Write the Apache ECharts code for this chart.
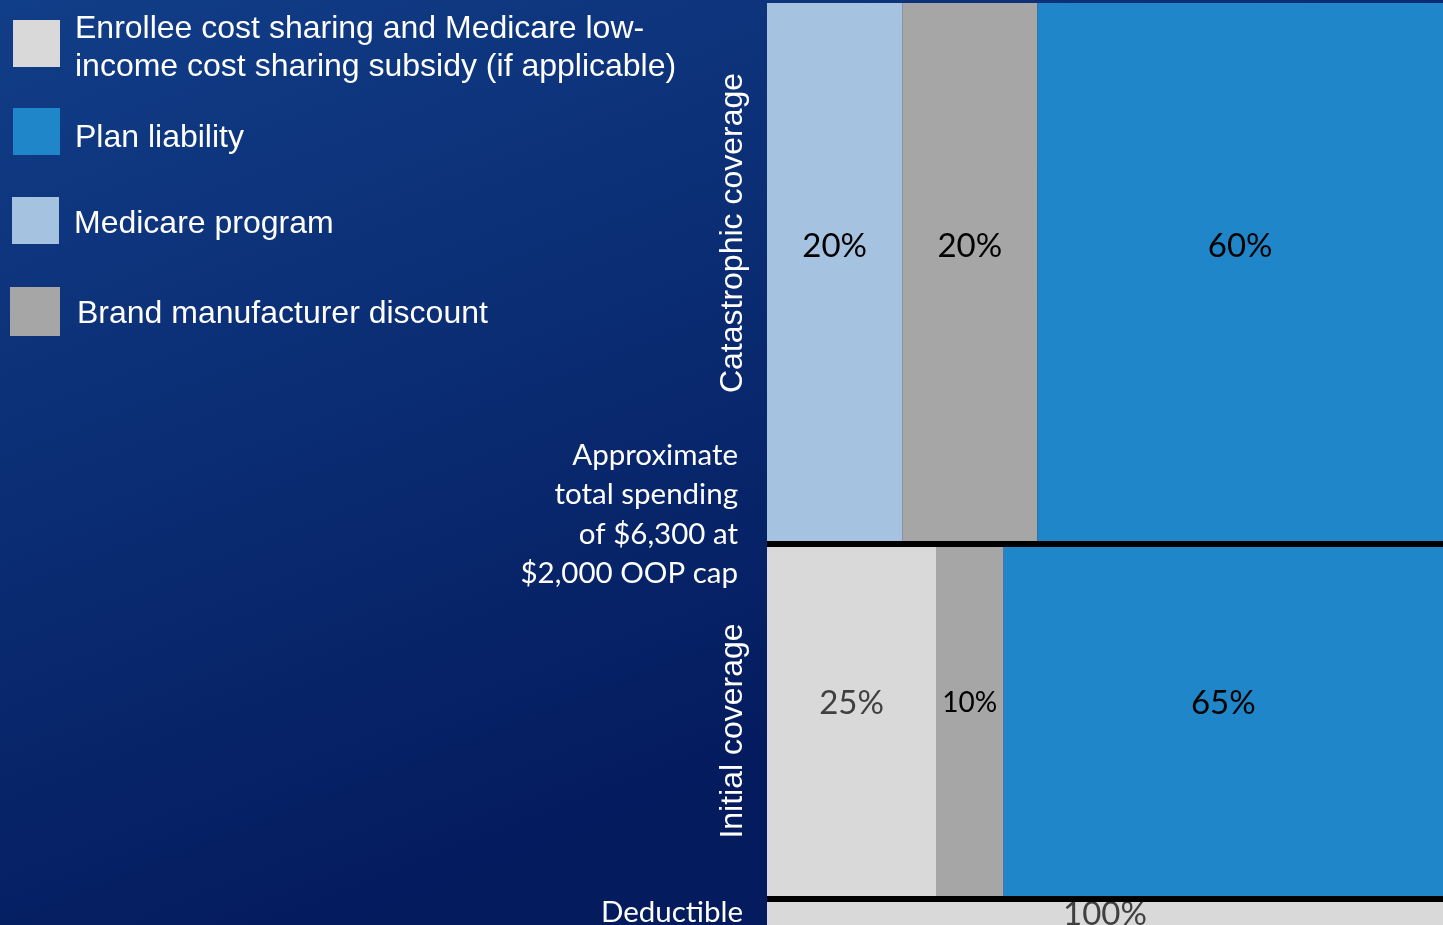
<!DOCTYPE html>
<html>
<head>
<meta charset="utf-8">
<script src="https://cdn.jsdelivr.net/npm/echarts@6/dist/echarts.min.js"></script>
<style>
  html, body { margin: 0; padding: 0; width: 1443px; height: 925px; overflow: hidden; background: #0a2a6e; }
  #chart { width: 1443px; height: 925px; }
</style>
</head>
<body>
<div id="chart"></div>
<script>
// ---- Data ----
const phases = ['Deductible', 'Initial coverage', 'Catastrophic coverage'];
// approximate total drug spending ($) at which each phase starts / ends
const phaseBounds = [0, 590, 6300, 15000];
const payers = [
  'Enrollee cost sharing and Medicare low-income cost sharing subsidy (if applicable)',
  'Medicare program',
  'Brand manufacturer discount',
  'Plan liability'
];
// share of spending (%) in each phase: [Deductible, Initial coverage, Catastrophic coverage]
const enrolleeShare = [100, 25, 0];
const medicareShare = [0, 0, 20];
const brandShare    = [0, 10, 20];
const planShare     = [0, 65, 60];
const shareTable = [enrolleeShare, medicareShare, brandShare, planShare];

const payerColors = ['#D9D9D9', '#A5C3E0', '#A6A6A6', '#1F87C9'];
const labelColors = ['#404040', '#000000', '#000000', '#000000'];
const ARIAL = 'Liberation Sans, Arimo, Arial, Helvetica, sans-serif';
const CALIBRI = 'Lato, Open Sans, sans-serif';

// ---- Build segments (left-to-right stacking within each phase) ----
const cumulative = phases.map(() => 0);
const series = payers.map((name, pi) => {
  const data = [];
  phases.forEach((ph, k) => {
    const v = shareTable[pi][k];
    if (v > 0) {
      data.push([cumulative[k], cumulative[k] + v, phaseBounds[k], phaseBounds[k + 1], v]);
      cumulative[k] += v;
    }
  });
  return {
    type: 'custom',
    name: name,
    itemStyle: { color: payerColors[pi] },
    data: data,
    clip: false,
    encode: { x: [0, 1], y: [2, 3] },
    renderItem: function (params, api) {
      const p0 = api.coord([api.value(0), api.value(3)]);
      const p1 = api.coord([api.value(1), api.value(2)]);
      const w = p1[0] - p0[0], h = p1[1] - p0[1];
      const small = w < 100;
      return {
        type: 'group',
        children: [
          { type: 'rect', shape: { x: p0[0], y: p0[1], width: w, height: h },
            style: { fill: payerColors[pi] } },
          { type: 'text', x: p0[0] + w / 2, y: p0[1] + h * 0.45,
            style: { text: api.value(4) + '%', align: 'center', verticalAlign: 'middle',
              fill: labelColors[pi], font: (small ? '28px ' : '33px ') + CALIBRI } }
        ]
      };
    },
    markLine: pi === 0 ? {
      silent: true, symbol: 'none', label: { show: false },
      lineStyle: { color: '#000', width: 6, type: 'solid' },
      data: [{ yAxis: phaseBounds[1] }, { yAxis: phaseBounds[2] }]
    } : undefined,
    z: 2
  };
});

const legendTops = [0.5, 105.5, 197, 287];
const legendLefts = [13, 13, 12, 10];
const legendSpacer = [10, 14, 8, 6];
const legendNames = [payers[0], payers[3], payers[1], payers[2]];
const legendLabels = {};
legendLabels[payers[0]] = 'Enrollee cost sharing and Medicare low-\nincome cost sharing subsidy (if applicable)';

const chart = echarts.init(document.getElementById('chart'), null, { renderer: 'canvas' });
chart.setOption({
  animation: false,
  backgroundColor: {
    type: 'linear', x: 0, y: 0, x2: 0.25, y2: 1,
    colorStops: [{ offset: 0, color: '#113e88' }, { offset: 1, color: '#041b5e' }]
  },
  grid: { left: 767, right: 0, top: 3, height: 932, outerBoundsMode: 'none', containLabel: false },
  xAxis: { type: 'value', min: 0, max: 100, show: false },
  yAxis: { type: 'value', min: phaseBounds[0], max: phaseBounds[3], show: false },
  legend: legendNames.map((n, i) => ({
    data: [n],
    left: legendLefts[i], top: legendTops[i],
    orient: 'vertical', padding: 0,
    itemWidth: i === 3 ? 50 : 47, itemHeight: i === 3 ? 49 : 47,
    icon: 'rect', selectedMode: false,
    formatter: (name) => '{s| }\n' + (legendLabels[name] || name).split('\n').map(l => '{t|' + l + '}').join('\n'),
    textStyle: {
      color: '#ffffff', fontSize: 32, lineHeight: 38, fontFamily: ARIAL,
      rich: {
        s: { fontSize: 1, lineHeight: legendSpacer[i], height: legendSpacer[i] },
        t: { color: '#ffffff', fontSize: 32, lineHeight: 38, fontFamily: ARIAL, padding: [0, 0, 0, i === 3 ? 12 : 10] }
      }
    }
  })),
  graphic: [
    { type: 'text', x: 733, y: 233, rotation: Math.PI / 2,
      style: { text: phases[2], align: 'center', verticalAlign: 'middle', fill: '#fff',
        font: '32px ' + ARIAL } },
    { type: 'text', x: 733, y: 731, rotation: Math.PI / 2,
      style: { text: phases[1], align: 'center', verticalAlign: 'middle', fill: '#fff',
        font: '32px ' + ARIAL } },
    { type: 'text', x: 738, y: 436,
      style: { text: 'Approximate\ntotal spending\nof $6,300 at\n$2,000 OOP cap', align: 'right',
        verticalAlign: 'top', fill: '#fff', lineHeight: 39.3,
        font: '29.5px ' + CALIBRI } },
    { type: 'text', x: 743, y: 912,
      style: { text: phases[0], align: 'right', verticalAlign: 'middle', fill: '#fff',
        font: '29.5px ' + CALIBRI } }
  ],
  series: series
});
</script>
</body>
</html>
